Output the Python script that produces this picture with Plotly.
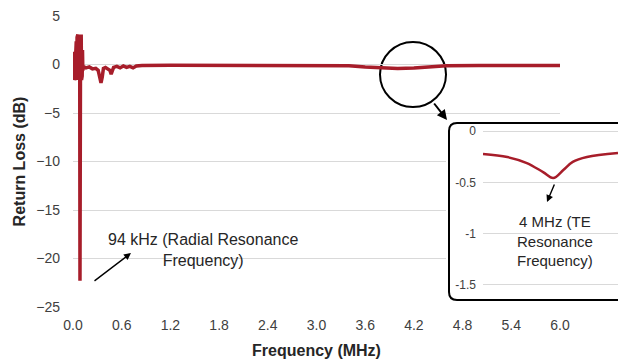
import plotly.graph_objects as go

# ---------------- data ----------------
freq_mhz = [0.000, 0.004, 0.008, 0.012, 0.016, 0.020, 0.024, 0.028, 0.032, 0.036,
            0.040, 0.045, 0.050, 0.055, 0.060, 0.065, 0.070, 0.075, 0.080, 0.083,
            0.086, 0.089, 0.093, 0.097, 0.101, 0.105, 0.109, 0.113, 0.117, 0.121,
            0.125, 0.13, 0.16, 0.20, 0.24, 0.28, 0.31, 0.33, 0.345, 0.36,
            0.375, 0.40, 0.43, 0.455, 0.47, 0.485, 0.50, 0.54, 0.58, 0.62,
            0.66, 0.70, 0.74, 0.78, 0.85, 1.2, 1.8, 2.4, 3.0, 3.4,
            3.6, 3.8, 4.0, 4.2, 4.4, 4.6, 5.0, 5.4, 6.0]
return_loss_db = [0.5, -1.4, 1.2, -1.5, 1.3, -1.6, 1.0, -1.3, 0.8, -1.5,
                  2.4, -1.6, 2.8, -1.4, 3.1, -1.6, 2.9, -1.5, 3.0, -1.2,
                  -22.3, -1.4, 2.9, -1.5, 3.1, -1.6, 2.6, -1.2, 1.5, -0.6,
                  0.1, -0.2, -0.35, -0.25, -0.45, -0.4, -0.6, -1.6, -1.9, -1.3,
                  -0.4, -0.3, -0.45, -0.6, -1.0, -0.7, -0.3, -0.2, -0.35, -0.15,
                  -0.3, -0.2, -0.35, -0.15, -0.1, -0.08, -0.08, -0.08, -0.1, -0.12,
                  -0.25, -0.3, -0.42, -0.35, -0.2, -0.12, -0.1, -0.1, -0.1]

inset_freq_mhz = [2.96, 3.32, 3.61, 3.85, 4.0, 4.15, 4.29, 4.5, 4.96]
inset_return_loss_db = [-0.224, -0.253, -0.312, -0.40, -0.458, -0.38, -0.30, -0.253, -0.214]

x_tick_vals = [0.0, 0.6, 1.2, 1.8, 2.4, 3.0, 3.6, 4.2, 4.8, 5.4, 6.0]
x_tick_text = ["0.0", "0.6", "1.2", "1.8", "2.4", "3.0", "3.6", "4.2", "4.8", "5.4", "6.0"]
y_tick_vals = [5, 0, -5, -10, -15, -20, -25]
inset_y_tick_vals = [0, -0.5, -1, -1.5]
inset_y_tick_text = ["0", "-0.5", "-1", "-1.5"]

# ---------------- layout helpers (pixel -> paper) ----------------
W, H = 618, 364
L, R, T, B = 73, 0, 16, 57
PW, PH = W - L - R, H - T - B


def px_x(p):
    return (p - L) / PW


def px_y(p):
    return (H - B - p) / PH


RED = "#a71d2a"
GRID = "#d9d9d9"
FONT = "Liberation Sans, Arial, sans-serif"

fig = go.Figure()

fig.add_trace(go.Scatter(x=freq_mhz, y=return_loss_db, mode="lines",
                         line=dict(color=RED, width=3.5), xaxis="x", yaxis="y",
                         showlegend=False, hoverinfo="skip"))
# frame subplot (empty) for the inset box
fig.add_trace(go.Scatter(x=[], y=[], xaxis="x2", yaxis="y2", showlegend=False))
fig.add_trace(go.Scatter(x=inset_freq_mhz, y=inset_return_loss_db, mode="lines",
                         line=dict(color=RED, width=2.5, shape="spline"),
                         xaxis="x3", yaxis="y3", showlegend=False, hoverinfo="skip"))

fig.update_layout(
    width=W, height=H,
    margin=dict(l=L, r=R, t=T, b=B, autoexpand=False),
    paper_bgcolor="white", plot_bgcolor="white",
    font=dict(family=FONT, color="#404040"),
    xaxis=dict(domain=[0, px_x(560)], range=[0, 6], tickvals=x_tick_vals, ticktext=x_tick_text,
               showgrid=False, zeroline=False, showline=False, ticks="",
               tickfont=dict(size=14, color="#404040"), ticklabelstandoff=8,
               title=dict(text="<b>Frequency (MHz)</b>", font=dict(size=16, color="#262626"), standoff=12),
               anchor="y", automargin=False),
    yaxis=dict(domain=[0, 1], range=[-25, 5], tickvals=y_tick_vals,
               showgrid=True, gridcolor=GRID, gridwidth=1, zeroline=False, showline=False, ticks="",
               tickfont=dict(size=14, color="#404040"), ticklabelstandoff=12,
               title=dict(text="<b>Return Loss (dB)</b>", font=dict(size=16, color="#262626"), standoff=6),
               anchor="x", automargin=False),
    xaxis2=dict(domain=[px_x(446), 1], range=[446, 618], visible=False, anchor="y2"),
    yaxis2=dict(domain=[px_y(304), px_y(119)], range=[304, 119], visible=False, anchor="x2"),
    xaxis3=dict(domain=[px_x(483), 1], range=[2.96, 4.96], visible=False, anchor="y3"),
    yaxis3=dict(domain=[px_y(287), px_y(129)], range=[-1.52, 0.02], tickvals=inset_y_tick_vals,
                ticktext=inset_y_tick_text, showgrid=True, gridcolor=GRID, zeroline=False,
                showline=False, ticks="", tickfont=dict(size=12, color="#404040"),
                ticklabelstandoff=6, anchor="x3", automargin=False),
    shapes=[
        dict(type="path", xref="x2", yref="y2", layer="below",
             path="M 457,123 L 640,123 L 640,300 L 457,300 Q 449,300 449,292 L 449,131 Q 449,123 457,123 Z",
             line=dict(color="black", width=2), fillcolor="white"),
        dict(type="circle", xref="paper", yref="paper", layer="below",
             x0=px_x(380), x1=px_x(446), y0=px_y(107), y1=px_y(42),
             line=dict(color="black", width=2)),
    ],
    annotations=[
        dict(xref="paper", yref="paper", x=px_x(203), y=px_y(250), showarrow=False,
             xanchor="center", yanchor="middle",
             text="94 kHz (Radial Resonance<br>Frequency)", align="center",
             font=dict(size=16, color="#262626", family=FONT)),
        dict(xref="paper", yref="paper", x=px_x(131), y=px_y(253), text="", showarrow=True,
             ax=-38, ay=29, arrowhead=2, arrowsize=1, arrowwidth=1.4, arrowcolor="black", standoff=0),
        dict(xref="paper", yref="paper", x=px_x(555), y=px_y(241), showarrow=False,
             xanchor="center", yanchor="middle",
             text="4 MHz (TE<br>Resonance<br>Frequency)", align="center",
             font=dict(size=15, color="#262626", family=FONT)),
        dict(xref="paper", yref="paper", x=px_x(547), y=px_y(202), text="", showarrow=True,
             ax=8, ay=-19, arrowhead=2, arrowsize=1, arrowwidth=1.4, arrowcolor="black", standoff=0),
        dict(xref="paper", yref="paper", x=px_x(447), y=px_y(120), text="", showarrow=True,
             ax=-14, ay=-18, arrowhead=2, arrowsize=1, arrowwidth=2, arrowcolor="black", standoff=0),
    ],
)

fig.write_html("out.html")
